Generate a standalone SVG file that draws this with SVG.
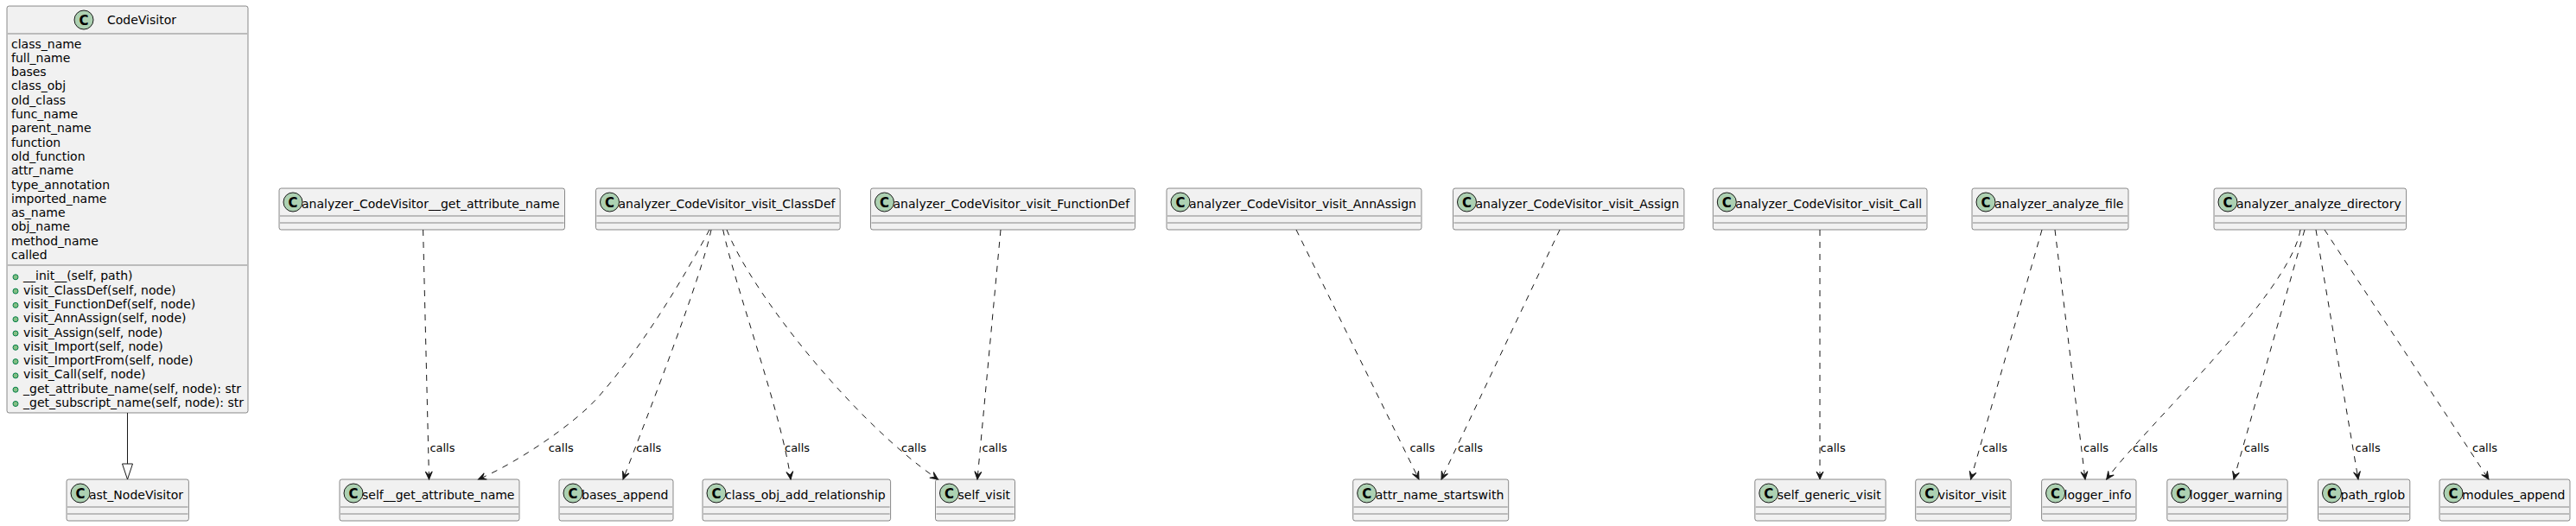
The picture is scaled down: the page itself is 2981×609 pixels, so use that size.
<svg xmlns="http://www.w3.org/2000/svg" width="2981" height="609" viewBox="0 0 2981 609">
<style>
.box{fill:#F1F1F1;stroke:#181818;stroke-width:0.5}
.sep{stroke:#181818;stroke-width:0.5}
.ci{fill:#ADD1B2;stroke:#181818;stroke-width:1}
.cl{font-family:"DejaVu Sans",sans-serif;font-size:15px;font-weight:bold;fill:#000000;text-anchor:middle}
.nm{font-family:"DejaVu Sans",sans-serif;font-size:14px;fill:#000000}
.mi{fill:#84BE84;stroke:#038048;stroke-width:1}
.e{fill:none;stroke:#181818;stroke-width:1;stroke-dasharray:7,7}
.lb{font-family:"DejaVu Sans",sans-serif;font-size:13px;fill:#000000}
</style>
<defs>
<marker id="ah" markerUnits="userSpaceOnUse" orient="auto" markerWidth="14" markerHeight="12" refX="0" refY="0" viewBox="-11 -6 14 12" overflow="visible">
<polygon points="0,0 -9,-4 -5,0 -9,4" fill="#181818" stroke="#181818" stroke-width="1"/>
</marker>
</defs>
<rect x="0" y="0" width="2981" height="609" fill="#FFFFFF"/>

<g id="CodeVisitor">
<rect class="box" x="8" y="7" width="279" height="471" rx="2.5"/>
<circle class="ci" cx="97" cy="23" r="11"/>
<text class="cl" x="97" y="28.5">C</text>
<text class="nm" x="124" y="28">CodeVisitor</text>
<line class="sep" x1="9" y1="39" x2="286" y2="39"/>
<g class="nm">
<text x="13" y="55.5">class_name</text>
<text x="13" y="71.8">full_name</text>
<text x="13" y="88.1">bases</text>
<text x="13" y="104.4">class_obj</text>
<text x="13" y="120.7">old_class</text>
<text x="13" y="137">func_name</text>
<text x="13" y="153.3">parent_name</text>
<text x="13" y="169.6">function</text>
<text x="13" y="185.9">old_function</text>
<text x="13" y="202.2">attr_name</text>
<text x="13" y="218.5">type_annotation</text>
<text x="13" y="234.8">imported_name</text>
<text x="13" y="251.1">as_name</text>
<text x="13" y="267.4">obj_name</text>
<text x="13" y="283.7">method_name</text>
<text x="13" y="300">called</text>
</g>
<line class="sep" x1="9" y1="307" x2="286" y2="307"/>
<circle class="mi" cx="18" cy="320.8" r="3"/>
<circle class="mi" cx="18" cy="337.1" r="3"/>
<circle class="mi" cx="18" cy="353.4" r="3"/>
<circle class="mi" cx="18" cy="369.7" r="3"/>
<circle class="mi" cx="18" cy="386" r="3"/>
<circle class="mi" cx="18" cy="402.3" r="3"/>
<circle class="mi" cx="18" cy="418.6" r="3"/>
<circle class="mi" cx="18" cy="434.9" r="3"/>
<circle class="mi" cx="18" cy="451.2" r="3"/>
<circle class="mi" cx="18" cy="467.5" r="3"/>
<g class="nm">
<text x="27" y="324.3">__init__(self, path)</text>
<text x="27" y="340.6">visit_ClassDef(self, node)</text>
<text x="27" y="356.9">visit_FunctionDef(self, node)</text>
<text x="27" y="373.2">visit_AnnAssign(self, node)</text>
<text x="27" y="389.5">visit_Assign(self, node)</text>
<text x="27" y="405.8">visit_Import(self, node)</text>
<text x="27" y="422.1">visit_ImportFrom(self, node)</text>
<text x="27" y="438.4">visit_Call(self, node)</text>
<text x="27" y="454.7">_get_attribute_name(self, node): str</text>
<text x="27" y="471">_get_subscript_name(self, node): str</text>
</g>
</g>

<g id="ast_NodeVisitor">
<rect class="box" x="77" y="555" width="141.4" height="48" rx="2.5"/>
<circle class="ci" cx="93" cy="571" r="11"/><text class="cl" x="93" y="576.5">C</text>
<text class="nm" x="103" y="578">ast_NodeVisitor</text>
<line class="sep" x1="78" y1="587" x2="217.4" y2="587"/><line class="sep" x1="78" y1="595" x2="217.4" y2="595"/>
</g>

<g id="analyzer_CodeVisitor__get_attribute_name">
<rect class="box" x="323" y="218" width="330.5" height="48" rx="2.5"/>
<circle class="ci" cx="339" cy="234" r="11"/><text class="cl" x="339" y="239.5">C</text>
<text class="nm" x="349" y="241">analyzer_CodeVisitor__get_attribute_name</text>
<line class="sep" x1="324" y1="250" x2="652.5" y2="250"/><line class="sep" x1="324" y1="258" x2="652.5" y2="258"/>
</g>

<g id="analyzer_CodeVisitor_visit_ClassDef">
<rect class="box" x="689.5" y="218" width="282.7" height="48" rx="2.5"/>
<circle class="ci" cx="705.5" cy="234" r="11"/><text class="cl" x="705.5" y="239.5">C</text>
<text class="nm" x="715.5" y="241">analyzer_CodeVisitor_visit_ClassDef</text>
<line class="sep" x1="690.5" y1="250" x2="971.2" y2="250"/><line class="sep" x1="690.5" y1="258" x2="971.2" y2="258"/>
</g>

<g id="analyzer_CodeVisitor_visit_FunctionDef">
<rect class="box" x="1007.5" y="218" width="306" height="48" rx="2.5"/>
<circle class="ci" cx="1023.5" cy="234" r="11"/><text class="cl" x="1023.5" y="239.5">C</text>
<text class="nm" x="1033.5" y="241">analyzer_CodeVisitor_visit_FunctionDef</text>
<line class="sep" x1="1008.5" y1="250" x2="1312.5" y2="250"/><line class="sep" x1="1008.5" y1="258" x2="1312.5" y2="258"/>
</g>

<g id="analyzer_CodeVisitor_visit_AnnAssign">
<rect class="box" x="1350" y="218" width="295" height="48" rx="2.5"/>
<circle class="ci" cx="1366" cy="234" r="11"/><text class="cl" x="1366" y="239.5">C</text>
<text class="nm" x="1376" y="241">analyzer_CodeVisitor_visit_AnnAssign</text>
<line class="sep" x1="1351" y1="250" x2="1644" y2="250"/><line class="sep" x1="1351" y1="258" x2="1644" y2="258"/>
</g>

<g id="analyzer_CodeVisitor_visit_Assign">
<rect class="box" x="1681.5" y="218" width="267.4" height="48" rx="2.5"/>
<circle class="ci" cx="1697.5" cy="234" r="11"/><text class="cl" x="1697.5" y="239.5">C</text>
<text class="nm" x="1707.5" y="241">analyzer_CodeVisitor_visit_Assign</text>
<line class="sep" x1="1682.5" y1="250" x2="1947.9" y2="250"/><line class="sep" x1="1682.5" y1="258" x2="1947.9" y2="258"/>
</g>

<g id="analyzer_CodeVisitor_visit_Call">
<rect class="box" x="1982.3" y="218" width="247.7" height="48" rx="2.5"/>
<circle class="ci" cx="1998.3" cy="234" r="11"/><text class="cl" x="1998.3" y="239.5">C</text>
<text class="nm" x="2008.3" y="241">analyzer_CodeVisitor_visit_Call</text>
<line class="sep" x1="1983.3" y1="250" x2="2229" y2="250"/><line class="sep" x1="1983.3" y1="258" x2="2229" y2="258"/>
</g>

<g id="analyzer_analyze_file">
<rect class="box" x="2282" y="218" width="181" height="48" rx="2.5"/>
<circle class="ci" cx="2298" cy="234" r="11"/><text class="cl" x="2298" y="239.5">C</text>
<text class="nm" x="2308" y="241">analyzer_analyze_file</text>
<line class="sep" x1="2283" y1="250" x2="2462" y2="250"/><line class="sep" x1="2283" y1="258" x2="2462" y2="258"/>
</g>

<g id="analyzer_analyze_directory">
<rect class="box" x="2562" y="218" width="222.6" height="48" rx="2.5"/>
<circle class="ci" cx="2578" cy="234" r="11"/><text class="cl" x="2578" y="239.5">C</text>
<text class="nm" x="2588" y="241">analyzer_analyze_directory</text>
<line class="sep" x1="2563" y1="250" x2="2783.6" y2="250"/><line class="sep" x1="2563" y1="258" x2="2783.6" y2="258"/>
</g>

<g id="self__get_attribute_name">
<rect class="box" x="393" y="555" width="208" height="48" rx="2.5"/>
<circle class="ci" cx="409" cy="571" r="11"/><text class="cl" x="409" y="576.5">C</text>
<text class="nm" x="419" y="578">self__get_attribute_name</text>
<line class="sep" x1="394" y1="587" x2="600" y2="587"/><line class="sep" x1="394" y1="595" x2="600" y2="595"/>
</g>

<g id="bases_append">
<rect class="box" x="647" y="555" width="132" height="48" rx="2.5"/>
<circle class="ci" cx="663" cy="571" r="11"/><text class="cl" x="663" y="576.5">C</text>
<text class="nm" x="673" y="578">bases_append</text>
<line class="sep" x1="648" y1="587" x2="778" y2="587"/><line class="sep" x1="648" y1="595" x2="778" y2="595"/>
</g>

<g id="class_obj_add_relationship">
<rect class="box" x="813" y="555" width="217.6" height="48" rx="2.5"/>
<circle class="ci" cx="829" cy="571" r="11"/><text class="cl" x="829" y="576.5">C</text>
<text class="nm" x="839" y="578">class_obj_add_relationship</text>
<line class="sep" x1="814" y1="587" x2="1029.6" y2="587"/><line class="sep" x1="814" y1="595" x2="1029.6" y2="595"/>
</g>

<g id="self_visit">
<rect class="box" x="1082.5" y="555" width="92" height="48" rx="2.5"/>
<circle class="ci" cx="1098.5" cy="571" r="11"/><text class="cl" x="1098.5" y="576.5">C</text>
<text class="nm" x="1108.5" y="578">self_visit</text>
<line class="sep" x1="1083.5" y1="587" x2="1173.5" y2="587"/><line class="sep" x1="1083.5" y1="595" x2="1173.5" y2="595"/>
</g>

<g id="attr_name_startswith">
<rect class="box" x="1565.7" y="555" width="180" height="48" rx="2.5"/>
<circle class="ci" cx="1581.7" cy="571" r="11"/><text class="cl" x="1581.7" y="576.5">C</text>
<text class="nm" x="1591.7" y="578">attr_name_startswith</text>
<line class="sep" x1="1566.7" y1="587" x2="1744.7" y2="587"/><line class="sep" x1="1566.7" y1="595" x2="1744.7" y2="595"/>
</g>

<g id="self_generic_visit">
<rect class="box" x="2030.8" y="555" width="151.4" height="48" rx="2.5"/>
<circle class="ci" cx="2046.8" cy="571" r="11"/><text class="cl" x="2046.8" y="576.5">C</text>
<text class="nm" x="2056.8" y="578">self_generic_visit</text>
<line class="sep" x1="2031.8" y1="587" x2="2181.2" y2="587"/><line class="sep" x1="2031.8" y1="595" x2="2181.2" y2="595"/>
</g>

<g id="visitor_visit">
<rect class="box" x="2216.7" y="555" width="110.5" height="48" rx="2.5"/>
<circle class="ci" cx="2232.7" cy="571" r="11"/><text class="cl" x="2232.7" y="576.5">C</text>
<text class="nm" x="2242.7" y="578">visitor_visit</text>
<line class="sep" x1="2217.7" y1="587" x2="2326.2" y2="587"/><line class="sep" x1="2217.7" y1="595" x2="2326.2" y2="595"/>
</g>

<g id="logger_info">
<rect class="box" x="2362.6" y="555" width="109.4" height="48" rx="2.5"/>
<circle class="ci" cx="2378.6" cy="571" r="11"/><text class="cl" x="2378.6" y="576.5">C</text>
<text class="nm" x="2388.6" y="578">logger_info</text>
<line class="sep" x1="2363.6" y1="587" x2="2471" y2="587"/><line class="sep" x1="2363.6" y1="595" x2="2471" y2="595"/>
</g>

<g id="logger_warning">
<rect class="box" x="2507.8" y="555" width="139.4" height="48" rx="2.5"/>
<circle class="ci" cx="2523.8" cy="571" r="11"/><text class="cl" x="2523.8" y="576.5">C</text>
<text class="nm" x="2533.8" y="578">logger_warning</text>
<line class="sep" x1="2508.8" y1="587" x2="2646.2" y2="587"/><line class="sep" x1="2508.8" y1="595" x2="2646.2" y2="595"/>
</g>

<g id="path_rglob">
<rect class="box" x="2682.5" y="555" width="106.3" height="48" rx="2.5"/>
<circle class="ci" cx="2698.5" cy="571" r="11"/><text class="cl" x="2698.5" y="576.5">C</text>
<text class="nm" x="2708.5" y="578">path_rglob</text>
<line class="sep" x1="2683.5" y1="587" x2="2787.8" y2="587"/><line class="sep" x1="2683.5" y1="595" x2="2787.8" y2="595"/>
</g>

<g id="modules_append">
<rect class="box" x="2823" y="555" width="151" height="48" rx="2.5"/>
<circle class="ci" cx="2839" cy="571" r="11"/><text class="cl" x="2839" y="576.5">C</text>
<text class="nm" x="2849" y="578">modules_append</text>
<line class="sep" x1="2824" y1="587" x2="2973" y2="587"/><line class="sep" x1="2824" y1="595" x2="2973" y2="595"/>
</g>

<g id="connectors">
<line x1="147.5" y1="478" x2="147.5" y2="537" stroke="#181818" stroke-width="1"/>
<polygon points="147.5,555 153.5,537 141.5,537" fill="none" stroke="#181818" stroke-width="1"/>
<path class="e" marker-end="url(#ah)" d="M489.6,266 L496.5,555"/>
<path class="e" marker-end="url(#ah)" d="M821,266 C795,315 745,400 692,460 C665.5,490 600,535 553.5,555"/>
<path class="e" marker-end="url(#ah)" d="M823,266 C812,320 750,480 721,555"/>
<path class="e" marker-end="url(#ah)" d="M836.7,266 C850,330 905,480 915,555"/>
<path class="e" marker-end="url(#ah)" d="M841,266 C870,340 990,490 1085.5,555"/>
<path class="e" marker-end="url(#ah)" d="M1158,266 L1131,555"/>
<path class="e" marker-end="url(#ah)" d="M1500,266 L1642,555"/>
<path class="e" marker-end="url(#ah)" d="M1805,266 L1668,555"/>
<path class="e" marker-end="url(#ah)" d="M2106,266 L2106,555"/>
<path class="e" marker-end="url(#ah)" d="M2363,266 L2280.6,555"/>
<path class="e" marker-end="url(#ah)" d="M2378,266 L2413,555"/>
<path class="e" marker-end="url(#ah)" d="M2662,266 C2650,340 2481,495 2437.7,555"/>
<path class="e" marker-end="url(#ah)" d="M2667,266 L2585,555"/>
<path class="e" marker-end="url(#ah)" d="M2680,266 L2729,555"/>
<path class="e" marker-end="url(#ah)" d="M2690,266 L2880,555"/>
<g class="lb">
<text x="497.4" y="523">calls</text>
<text x="634.7" y="523">calls</text>
<text x="736.2" y="523">calls</text>
<text x="908" y="523">calls</text>
<text x="1043" y="523">calls</text>
<text x="1136.5" y="523">calls</text>
<text x="1631.4" y="523">calls</text>
<text x="1687" y="523">calls</text>
<text x="2106.6" y="523">calls</text>
<text x="2294" y="523">calls</text>
<text x="2411" y="523">calls</text>
<text x="2468" y="523">calls</text>
<text x="2597" y="523">calls</text>
<text x="2725.6" y="523">calls</text>
<text x="2861" y="523">calls</text>
</g>
</g>
</svg>
